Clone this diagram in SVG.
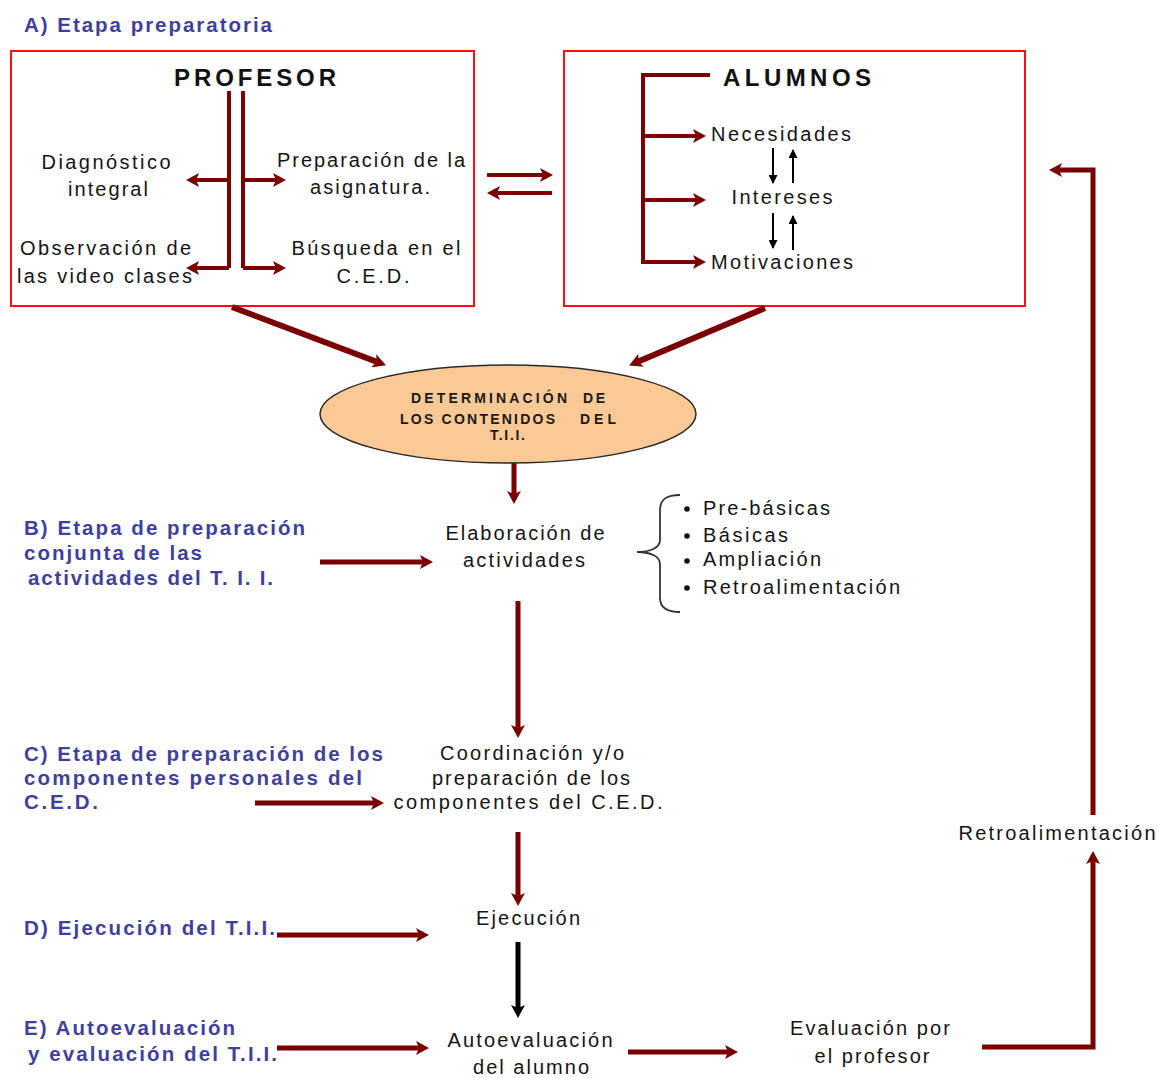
<svg xmlns="http://www.w3.org/2000/svg" width="1157" height="1078" viewBox="0 0 1157 1078">
<style>
.box{fill:none;stroke:#ff1010;stroke-width:2}
.t{font-family:"Liberation Sans",Arial,sans-serif;font-size:20px;fill:#141414}
.h{font-family:"Liberation Sans",Arial,sans-serif;font-size:24px;font-weight:bold;fill:#111}
.lab{font-family:"Liberation Sans",Arial,sans-serif;font-size:20.5px;font-weight:bold;fill:#3f3f9e}
.el{font-family:"Liberation Sans",Arial,sans-serif;font-size:14px;font-weight:bold;fill:#1a1a1a}
.c{text-anchor:middle}
.a{fill:none;stroke:#7a0000;stroke-width:5;marker-end:url(#ah)}
.a4{fill:none;stroke:#7a0000;stroke-width:4;marker-end:url(#ah)}
.br{fill:none;stroke:#7a0000;stroke-width:4}
.k{fill:none;stroke:#000;stroke-width:2;marker-end:url(#sk)}
</style>
<defs>
<marker id="ah" viewBox="0 0 13 14" refX="3" refY="7" markerWidth="13" markerHeight="14" markerUnits="userSpaceOnUse" orient="auto">
<path d="M0,0 L13,7 L0,14 L3,7 z" fill="#7a0000"/>
</marker>
<marker id="bk" viewBox="0 0 13 14" refX="3" refY="7" markerWidth="13" markerHeight="14" markerUnits="userSpaceOnUse" orient="auto">
<path d="M0,0 L13,7 L0,14 L3,7 z" fill="#000"/>
</marker>
<marker id="sk" viewBox="0 0 9 9" refX="8" refY="4.5" markerWidth="9" markerHeight="9" markerUnits="userSpaceOnUse" orient="auto">
<path d="M0,0 L9,4.5 L0,9 z" fill="#000"/>
</marker>
</defs>

<text class="lab" x="24" y="32" textLength="248" lengthAdjust="spacing">A) Etapa preparatoria</text>

<g id="profesor">
<rect class="box" x="11" y="51" width="463" height="255"/>
<text class="h c" x="255" y="86" textLength="162" lengthAdjust="spacing">PROFESOR</text>
<path class="br" d="M229,91 V268"/>
<path class="br" d="M243,91 V268"/>
<path class="a4" d="M229,268 H196"/>
<path class="a4" d="M229,180 H196"/>
<path class="a4" d="M243,268 H276"/>
<path class="a4" d="M243,180 H276"/>
<text class="t c" x="106" y="169" textLength="129" lengthAdjust="spacing">Diagnóstico</text>
<text class="t c" x="108" y="196" textLength="80" lengthAdjust="spacing">integral</text>
<text class="t c" x="371" y="167" textLength="188" lengthAdjust="spacing">Preparación de la</text>
<text class="t c" x="370" y="194" textLength="120" lengthAdjust="spacing">asignatura.</text>
<text class="t" x="20" y="255" textLength="171" lengthAdjust="spacing">Observación de</text>
<text class="t" x="17" y="283" textLength="175" lengthAdjust="spacing">las video clases</text>
<text class="t c" x="376" y="255" textLength="169" lengthAdjust="spacing">Búsqueda en el</text>
<text class="t c" x="373" y="283" textLength="73" lengthAdjust="spacing">C.E.D.</text>
</g>

<g id="alumnos">
<rect class="box" x="564" y="51" width="461" height="255"/>
<text class="h" x="723" y="86" textLength="148" lengthAdjust="spacing">ALUMNOS</text>
<path class="br" d="M710,75 H643 V262"/>
<path class="a4" d="M641,262 H696"/>
<path class="a4" d="M643,136 H696"/>
<path class="a4" d="M643,200 H696"/>
<text class="t c" x="781" y="141" textLength="140" lengthAdjust="spacing">Necesidades</text>
<text class="t c" x="782" y="204" textLength="101" lengthAdjust="spacing">Intereses</text>
<text class="t c" x="782" y="269" textLength="142" lengthAdjust="spacing">Motivaciones</text>
<path class="k" d="M773,148 V183"/>
<path class="k" d="M793,183 V150"/>
<path class="k" d="M773,213 V248"/>
<path class="k" d="M793,250 V216"/>
</g>

<g id="determinacion">
<ellipse cx="508" cy="414" rx="188" ry="49" fill="#fbc996" stroke="#2a2a2a" stroke-width="1.5"/>
<text class="el" x="411" y="403" textLength="156" lengthAdjust="spacing">DETERMINACIÓN</text>
<text class="el" x="583" y="403" textLength="22" lengthAdjust="spacing">DE</text>
<text class="el" x="400" y="424" textLength="155" lengthAdjust="spacing">LOS CONTENIDOS</text>
<text class="el" x="580" y="424" textLength="36" lengthAdjust="spacing">DEL</text>
<text class="el" x="490" y="440" textLength="35" lengthAdjust="spacing">T.I.I.</text>
</g>

<g id="etapa-b">
<text class="lab" x="24" y="535" textLength="281" lengthAdjust="spacing">B) Etapa de preparación</text>
<text class="lab" x="24" y="560" textLength="178" lengthAdjust="spacing">conjunta de las</text>
<text class="lab" x="28" y="585" textLength="245" lengthAdjust="spacing">actividades del T. I. I.</text>
</g>

<g id="elaboracion">
<text class="t c" x="525" y="540" textLength="159" lengthAdjust="spacing">Elaboración de</text>
<text class="t c" x="524" y="567" textLength="122" lengthAdjust="spacing">actividades</text>
</g>

<g id="tipos">
<path d="M680,495 C667,495 660,499 660,510 V540 C660,548 650,552 637,552 C650,552 660,556 660,564 V598 C660,608 667,612 680,612" fill="none" stroke="#333" stroke-width="1.8"/>
<circle cx="687" cy="509" r="2.8" fill="#111"/>
<circle cx="687" cy="536" r="2.8" fill="#111"/>
<circle cx="687" cy="561" r="2.8" fill="#111"/>
<circle cx="687" cy="588" r="2.8" fill="#111"/>
<text class="t" x="703" y="515" textLength="127" lengthAdjust="spacing">Pre-básicas</text>
<text class="t" x="703" y="542" textLength="85" lengthAdjust="spacing">Básicas</text>
<text class="t" x="703" y="566" textLength="118" lengthAdjust="spacing">Ampliación</text>
<text class="t" x="703" y="594" textLength="197" lengthAdjust="spacing">Retroalimentación</text>
</g>

<g id="etapa-c">
<text class="lab" x="24" y="761" textLength="359" lengthAdjust="spacing">C) Etapa de preparación de los</text>
<text class="lab" x="24" y="785" textLength="338" lengthAdjust="spacing">componentes personales del</text>
<text class="lab" x="24" y="809" textLength="74" lengthAdjust="spacing">C.E.D.</text>
</g>

<g id="coordinacion">
<text class="t c" x="532" y="760" textLength="184" lengthAdjust="spacing">Coordinación y/o</text>
<text class="t c" x="531" y="785" textLength="198" lengthAdjust="spacing">preparación de los</text>
<text class="t c" x="528" y="809" textLength="269" lengthAdjust="spacing">componentes del C.E.D.</text>
</g>

<g id="etapa-d">
<text class="lab" x="24" y="935" textLength="251" lengthAdjust="spacing">D) Ejecución del T.I.I.</text>
</g>

<g id="ejecucion">
<text class="t c" x="528" y="925" textLength="104" lengthAdjust="spacing">Ejecución</text>
</g>

<g id="etapa-e">
<text class="lab" x="24" y="1035" textLength="211" lengthAdjust="spacing">E) Autoevaluación</text>
<text class="lab" x="28" y="1061" textLength="249" lengthAdjust="spacing">y evaluación del T.I.I.</text>
</g>

<g id="autoevaluacion">
<text class="t c" x="530" y="1047" textLength="165" lengthAdjust="spacing">Autoevaluación</text>
<text class="t c" x="531" y="1074" textLength="116" lengthAdjust="spacing">del alumno</text>
</g>

<g id="evaluacion-profesor">
<text class="t c" x="870" y="1035" textLength="160" lengthAdjust="spacing">Evaluación por</text>
<text class="t c" x="872" y="1063" textLength="115" lengthAdjust="spacing">el profesor</text>
</g>

<g id="retroalimentacion">
<text class="t c" x="1057" y="840" textLength="197" lengthAdjust="spacing">Retroalimentación</text>
</g>

<g id="connectors">
<path class="a4" d="M487,175 H543"/>
<path class="a4" d="M552,193 H497"/>
<path fill="none" stroke="#7a0000" stroke-width="6" marker-end="url(#ah)" d="M232,307 L376.6,361.8"/>
<path fill="none" stroke="#7a0000" stroke-width="6" marker-end="url(#ah)" d="M765,308 L638.3,361.5"/>
<path class="a" d="M514,463 V494"/>
<path class="a" d="M320,562 H423"/>
<path class="a" d="M518,601 V728"/>
<path class="a" d="M255,803 H374"/>
<path class="a" d="M518,832 V896"/>
<path class="a" d="M277,935 H419"/>
<path fill="none" stroke="#000" stroke-width="5" marker-end="url(#bk)" d="M518,942 V1008"/>
<path class="a" d="M277,1048 H419"/>
<path class="a" d="M628,1052 H728"/>
<path class="a" d="M982,1047 H1093 V861"/>
<path class="a" d="M1093,815 V170 H1059"/>
</g>
</svg>
